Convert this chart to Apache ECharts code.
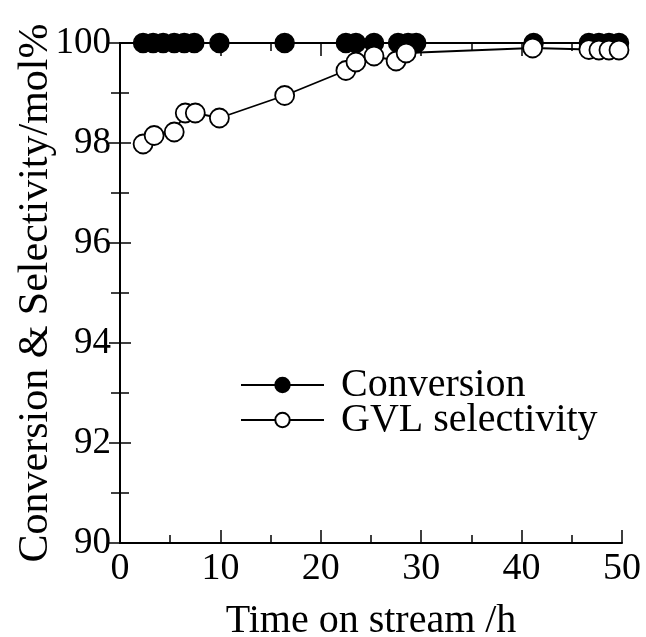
<!DOCTYPE html>
<html><head><meta charset="utf-8">
<script src="https://cdn.jsdelivr.net/npm/echarts@6/dist/echarts.min.js"></script>
<style>html,body{margin:0;padding:0;background:#fff}#c{width:646px;height:637px}</style>
</head><body><div id="c"></div>
<script>
const convTime = [2.3,3.3,4.3,5.4,6.4,7.4,9.9,16.4,22.5,23.5,25.3,27.7,28.7,29.5,41.2,46.7,47.7,48.7,49.7];
const convVal  = [100,100,100,100,100,100,100,100,100,100,100,100,100,100,100,100,100,100,100];
const selTime  = [2.3,3.4,5.4,6.5,7.5,9.9,16.4,22.5,23.5,25.3,27.5,28.5,41.1,46.7,47.7,48.7,49.7];
const selVal   = [97.98,98.15,98.22,98.6,98.6,98.5,98.95,99.45,99.62,99.74,99.64,99.8,99.9,99.87,99.86,99.86,99.86];
const xTicks = [0,10,20,30,40,50];
const yTicks = [90,92,94,96,98,100];

const F = 'Liberation Serif, Times New Roman, serif';
const pair = (xs, ys) => xs.map((x,i)=>[x, ys[i]]);
const chart = echarts.init(document.getElementById('c'), null, {renderer:'canvas'});
const axLine = {show:true, lineStyle:{color:'#000', width:2}};
const xBase = {type:'value', min:xTicks[0], max:xTicks[xTicks.length-1], interval:10,
  axisLine:axLine, splitLine:{show:false},
  axisTick:{inside:true, length:13, lineStyle:{color:'#000', width:1.5}},
  minorTick:{show:true, splitNumber:2, length:8, lineStyle:{color:'#000', width:1.5}}};
const yBase = {type:'value', min:yTicks[0], max:yTicks[yTicks.length-1], interval:2,
  axisLine:axLine, splitLine:{show:false},
  axisTick:{inside:true, length:11, lineStyle:{color:'#000', width:1.5}},
  minorTick:{show:true, splitNumber:2, length:9, lineStyle:{color:'#000', width:1.5}}};
const legBase = {orient:'vertical', left:240, padding:0, itemWidth:83, itemHeight:18,
  textStyle:{fontFamily:F, fontSize:40, color:'#000', padding:[0,0,0,12]}};
chart.setOption({
  animation:false,
  backgroundColor:'#fff',
  grid:{left:120, right:24, top:43, bottom:94, outerBoundsMode:'none', containLabel:false},
  legend:[
    Object.assign({}, legBase, {top:365, data:['Conversion']}),
    Object.assign({}, legBase, {top:400, data:['GVL selectivity']})
  ],
  xAxis:[
    Object.assign({}, xBase, {position:'bottom', name:'Time on stream /h', nameLocation:'middle', nameGap:58,
      nameMoveOverlap:false,
      nameTextStyle:{fontFamily:F, fontSize:40, color:'#000'},
      axisLabel:{show:true, margin:7, fontFamily:F, fontSize:38, color:'#000'}}),
    Object.assign({}, xBase, {position:'top', axisLabel:{show:false}})
  ],
  yAxis:[
    Object.assign({}, yBase, {position:'left', name:'Conversion & Selectivity/mol%', nameLocation:'middle', nameGap:63,
      nameMoveOverlap:false,
      nameTextStyle:{fontFamily:F, fontSize:42, color:'#000'},
      axisLabel:{show:true, margin:9, fontFamily:F, fontSize:37, color:'#000'}}),
    Object.assign({}, yBase, {position:'right', axisLabel:{show:false}})
  ],
  series:[
    {name:'Conversion', type:'line', data:pair(convTime, convVal), symbol:'circle', symbolSize:19,
     lineStyle:{color:'#000', width:1.8}, itemStyle:{color:'#000', borderColor:'#000', borderWidth:1.5}, z:3},
    {name:'GVL selectivity', type:'line', data:pair(selTime, selVal), symbol:'circle', symbolSize:19,
     lineStyle:{color:'#000', width:1.8}, itemStyle:{color:'#fff', borderColor:'#000', borderWidth:1.8}, z:4}
  ]
});
</script></body></html>
